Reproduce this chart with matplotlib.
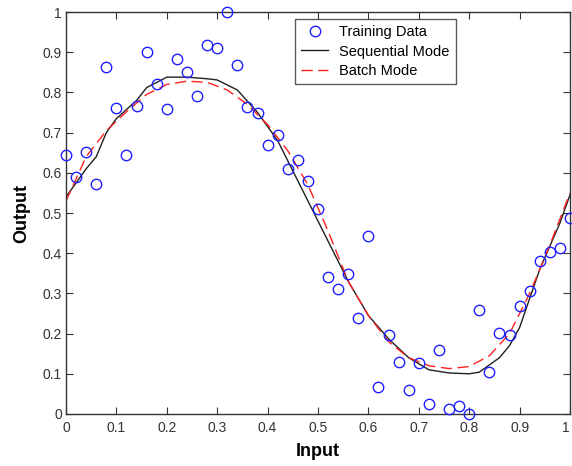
import numpy as np
import matplotlib
matplotlib.use("Agg")
import matplotlib.pyplot as plt

plt.rcParams['font.family'] = ['Liberation Sans', 'DejaVu Sans']

# training samples (input step 0.02)
train_x = [0.00, 0.02, 0.04, 0.06, 0.08, 0.10, 0.12, 0.14, 0.16, 0.18,
           0.20, 0.22, 0.24, 0.26, 0.28, 0.30, 0.32, 0.34, 0.36, 0.38,
           0.40, 0.42, 0.44, 0.46, 0.48, 0.50, 0.52, 0.54, 0.56, 0.58,
           0.60, 0.62, 0.64, 0.66, 0.68, 0.70, 0.72, 0.74, 0.76, 0.78,
           0.80, 0.82, 0.84, 0.86, 0.88, 0.90, 0.92, 0.94, 0.96, 0.98, 1.00]
train_y = [0.644, 0.589, 0.652, 0.572, 0.864, 0.762, 0.644, 0.766, 0.900, 0.820,
           0.759, 0.883, 0.851, 0.791, 0.918, 0.910, 1.000, 0.868, 0.764, 0.749,
           0.669, 0.694, 0.609, 0.633, 0.580, 0.510, 0.341, 0.311, 0.348, 0.239,
           0.443, 0.067, 0.197, 0.129, 0.060, 0.127, 0.025, 0.158, 0.012, 0.020,
           0.000, 0.259, 0.104, 0.202, 0.196, 0.269, 0.305, 0.381, 0.402, 0.414, 0.487]

# sequential mode network output
seq_x = [0.00, 0.02, 0.04, 0.06, 0.08, 0.10, 0.14, 0.16, 0.20, 0.24, 0.28, 0.30,
         0.34, 0.38, 0.42, 0.46, 0.50, 0.54, 0.56, 0.60, 0.64, 0.68, 0.72, 0.76,
         0.80, 0.82, 0.86, 0.88, 0.90, 0.94, 0.98, 1.00]
seq_y = [0.540, 0.575, 0.610, 0.640, 0.700, 0.735, 0.780, 0.812, 0.838, 0.838, 0.834, 0.831,
         0.806, 0.750, 0.680, 0.580, 0.480, 0.380, 0.330, 0.245, 0.187, 0.140, 0.110, 0.102,
         0.100, 0.104, 0.140, 0.170, 0.215, 0.360, 0.475, 0.545]

# batch mode network output
batch_x = [0.00, 0.04, 0.08, 0.12, 0.16, 0.20, 0.24, 0.28, 0.32, 0.36, 0.40, 0.44, 0.48,
           0.52, 0.56, 0.60, 0.64, 0.68, 0.72, 0.76, 0.80, 0.84, 0.88, 0.92, 0.96, 1.00]
batch_y = [0.530, 0.640, 0.705, 0.752, 0.795, 0.820, 0.828, 0.825, 0.806, 0.770, 0.720, 0.655, 0.570,
           0.455, 0.330, 0.245, 0.180, 0.140, 0.120, 0.113, 0.118, 0.145, 0.200, 0.300, 0.420, 0.550]

ticks = [0, 0.1, 0.2, 0.3, 0.4, 0.5, 0.6, 0.7, 0.8, 0.9, 1]
tick_labels = ["0", "0.1", "0.2", "0.3", "0.4", "0.5", "0.6", "0.7", "0.8", "0.9", "1"]

fig = plt.figure(figsize=(5.72, 4.66), dpi=100)
ax = fig.add_axes([0.1154, 0.1116, 0.8811, 0.8626])

ax.plot(train_x, train_y, 'o', mfc='none', mec='#2020ff', ms=7.5, mew=1.0,
        label="Training Data", clip_on=False, zorder=3)
ax.plot(seq_x, seq_y, '-', color='#202020', lw=1.0, label="Sequential Mode")
ax.plot(batch_x, batch_y, '--', color='#ff2020', lw=1.0, dashes=(8, 4),
        label="Batch Mode")

ax.set_xlim(0, 1)
ax.set_ylim(0, 1)
ax.set_xticks(ticks)
ax.set_xticklabels(tick_labels)
ax.set_yticks(ticks)
ax.set_yticklabels(tick_labels)
ax.tick_params(direction='in', top=True, right=True, length=5, labelsize=10,
               colors='#333333')
ax.tick_params(axis='x', pad=5)
ax.tick_params(axis='y', pad=3)
# keep the last x label inside the picture
ax.get_xticklabels()[-1].set_horizontalalignment('right')
for s in ax.spines.values():
    s.set_color('#333333')
    s.set_linewidth(1.0)

ax.set_xlabel("Input", fontsize=13, fontweight='bold', labelpad=6)
ax.set_ylabel("Output", fontsize=13, fontweight='bold', labelpad=9)

leg = ax.legend(loc='upper left', bbox_to_anchor=(0.454, 0.983), fontsize=10.5,
                frameon=True, fancybox=False, edgecolor='#333333',
                handlelength=1.8, borderpad=0.45, labelspacing=0.35,
                handletextpad=0.75, borderaxespad=0)
leg.get_frame().set_linewidth(1.0)

plt.savefig("out.png", dpi=100)
